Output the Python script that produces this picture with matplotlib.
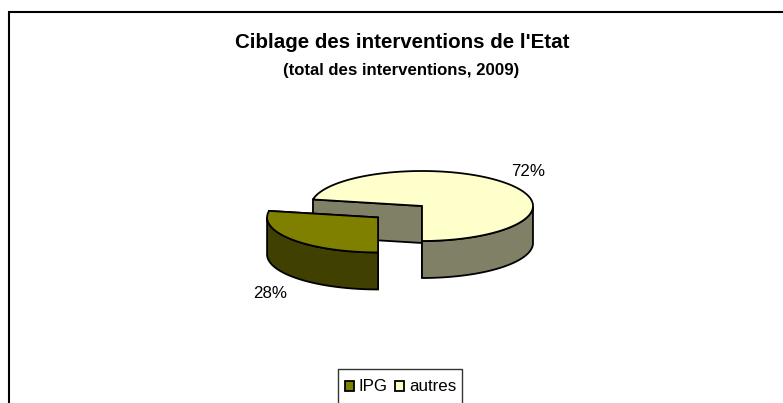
import numpy as np
import matplotlib
matplotlib.use("Agg")
import matplotlib.pyplot as plt
from matplotlib.patches import Polygon, Rectangle

plt.rcParams['font.family'] = ['Liberation Sans', 'DejaVu Sans']

# donnees du graphique
categories = ["IPG", "autres"]
parts = [28, 72]
couleurs_dessus = ["#808000", "#FFFFCC"]
couleurs_cote = ["#404000", "#808066"]

titre = "Ciblage des interventions de l'Etat"
sous_titre = "(total des interventions, 2009)"

W, H = 783, 403

fig = plt.figure(figsize=(W / 100, H / 100), dpi=100)
ax = fig.add_axes([0, 0, 1, 1])
ax.set_xlim(0, W)
ax.set_ylim(H, 0)
ax.set_axis_off()

# cadre : seulement a gauche et en haut, le reste est coupe
ax.plot([9, 9, W], [H, 12, 12], color="black", lw=1.5, solid_joinstyle="miter")

# geometrie du camembert 3D
cx, cy = 422, 206
a, b = 111, 35
epaisseur = 37
eclatement = 57

debut_autres = 270
debut_ipg = debut_autres + parts[1] * 3.6
fin_ipg = debut_ipg + parts[0] * 3.6


def arc(t0, t1, dx=0, dy=0):
    t = np.radians(np.linspace(t0, t1, 150))
    return np.column_stack([cx + dx + a * np.cos(t), cy + dy - b * np.sin(t)])


def part_3d(t0, t1, haut, cote, dx=0, dy=0):
    centre = np.array([cx + dx, cy + dy])
    bord = arc(t0, t1, dx, dy)
    bas = np.array([0, epaisseur])
    # faces coupees
    for p in [bord[0], bord[-1]]:
        face = [centre, p, p + bas, centre + bas]
        ax.add_patch(Polygon(face, closed=True, fc=cote, ec="black", lw=1.3, zorder=2))
    # paroi exterieure, seulement la partie visible (moitie basse)
    masque = np.sin(np.radians(np.linspace(t0, t1, 150))) <= 0
    visible = bord[masque]
    paroi = np.vstack([visible, (visible + bas)[::-1]])
    ax.add_patch(Polygon(paroi, closed=True, fc=cote, ec="black", lw=1.3, zorder=3))
    dessus = np.vstack([centre, bord])
    ax.add_patch(Polygon(dessus, closed=True, fc=haut, ec="black", lw=1.3, zorder=4))


# part "autres" d'abord, la part eclatee passe devant
part_3d(debut_autres, debut_ipg, couleurs_dessus[1], couleurs_cote[1])

milieu = np.radians((debut_ipg + fin_ipg) / 2)
dx = eclatement * np.cos(milieu)
dy = -eclatement * np.sin(milieu) * b / a
part_3d(debut_ipg, fin_ipg, couleurs_dessus[0], couleurs_cote[0], dx, dy)

# etiquettes
ax.text(528.5, 176, f"{parts[1]}%", ha="center", va="baseline", fontsize=12.2, color="black")
ax.text(270.5, 298, f"{parts[0]}%", ha="center", va="baseline", fontsize=12.2, color="black")

# titres
ax.text(402, 48, titre, ha="center", va="baseline", fontsize=14.8, fontweight="bold", color="black")
ax.text(401.5, 75, sous_titre, ha="center", va="baseline", fontsize=12.1, fontweight="bold", color="black")

# legende
ax.plot([337.5, 337.5, 461.5, 461.5], [H, 368.5, 368.5, H], color="#333333", lw=1)
ax.add_patch(Rectangle((345, 381), 9, 10, fc=couleurs_dessus[0], ec="black", lw=1.3))
ax.text(359, 391, categories[0], ha="left", va="baseline", fontsize=12.2)
ax.add_patch(Rectangle((395, 381), 9, 10, fc=couleurs_dessus[1], ec="black", lw=1.3))
ax.text(409, 391, categories[1], ha="left", va="baseline", fontsize=12.2)

fig.savefig("out.png", dpi=100, facecolor="white")
